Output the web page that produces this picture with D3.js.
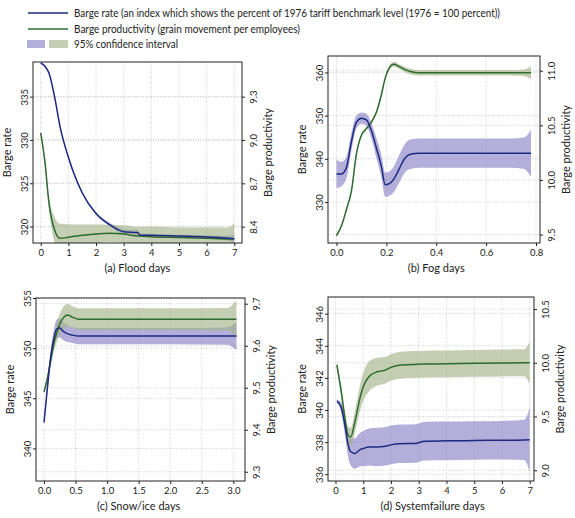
<!DOCTYPE html>
<html>
<head>
<meta charset="utf-8">
<script src="https://cdn.jsdelivr.net/npm/d3@7"></script>
<style>
  body { margin: 0; background: #fff; }
  svg { font-family: Lato, "Open Sans", sans-serif; }
</style>
</head>
<body>
<svg id="chart" width="575" height="518"></svg>
<script>
// (a) Flood days
var floodX     = [0, 0.15, 0.3, 0.5, 0.7, 1, 1.5, 2, 2.5, 3, 3.5, 3.6, 4, 5, 6, 6.8, 7];
var floodRate  = [338.9, 338.5, 337.7, 335, 331.5, 328, 323.9, 321.5, 320.2, 319.4, 319.3, 319.0, 319.0, 318.9, 318.8, 318.65, 318.6];
var floodRateCI = [0.1, 0.1, 0.12, 0.15, 0.15, 0.15, 0.15, 0.15, 0.2, 0.3, 0.3, 0.2, 0.15, 0.15, 0.2, 0.3, 0.5];
var floodProd  = [9.05, 8.85, 8.56, 8.377, 8.32, 8.327, 8.34, 8.35, 8.354, 8.35, 8.335, 8.335, 8.33, 8.325, 8.32, 8.315, 8.315];
var floodProdCI = [0.01, 0.02, 0.04, 0.09, 0.1, 0.09, 0.075, 0.065, 0.06, 0.06, 0.065, 0.065, 0.07, 0.07, 0.075, 0.08, 0.11];

// (b) Fog days
var fogX     = [0, 0.02, 0.04, 0.06, 0.08, 0.1, 0.12, 0.14, 0.16, 0.18, 0.195, 0.21, 0.23, 0.25, 0.275, 0.3, 0.33, 0.4, 0.5, 0.6, 0.7, 0.75, 0.78];
var fogRate  = [336.5, 336.5, 338, 344, 348.5, 349.4, 349, 346.5, 342.5, 338.3, 334.0, 334.2, 335.3, 337.5, 340.2, 341.1, 341.3, 341.3, 341.3, 341.3, 341.3, 341.3, 341.3];
var fogRateCI = [3.3, 2.8, 2.5, 2.0, 1.5, 1.3, 1.4, 1.8, 2.3, 2.6, 2.8, 2.8, 3.0, 3.2, 3.3, 3.4, 3.4, 3.4, 3.4, 3.4, 3.4, 3.6, 5.5];
var fogProd  = [9.49, 9.58, 9.73, 9.90, 10.24, 10.41, 10.47, 10.53, 10.62, 10.78, 10.93, 11.02, 11.06, 11.04, 11.01, 10.99, 10.982, 10.982, 10.982, 10.982, 10.982, 10.982, 10.982];
var fogProdCI = [0.01, 0.01, 0.01, 0.01, 0.01, 0.01, 0.012, 0.012, 0.015, 0.015, 0.018, 0.02, 0.022, 0.022, 0.025, 0.025, 0.025, 0.025, 0.025, 0.025, 0.025, 0.03, 0.06];

// (c) Snow/ice days
var snowX     = [0, 0.05, 0.1, 0.15, 0.2, 0.25, 0.3, 0.37, 0.45, 0.55, 0.7, 1, 2, 2.9, 3.05];
var snowRate  = [342.6, 345.8, 348.8, 350.8, 351.9, 352.0, 351.7, 351.45, 351.3, 351.2, 351.2, 351.2, 351.2, 351.2, 351.2];
var snowRateCI = [0.3, 0.5, 0.7, 0.8, 0.95, 0.95, 0.9, 0.85, 0.8, 0.8, 0.8, 0.8, 0.8, 0.85, 1.4];
var snowProd  = [9.49, 9.52, 9.56, 9.60, 9.63, 9.652, 9.665, 9.673, 9.668, 9.663, 9.663, 9.663, 9.663, 9.663, 9.663];
var snowProdCI = [0.005, 0.008, 0.012, 0.018, 0.022, 0.025, 0.026, 0.027, 0.026, 0.026, 0.026, 0.026, 0.026, 0.027, 0.045];

// (d) Systemfailure days
var failX     = [0.05, 0.2, 0.35, 0.45, 0.55, 0.7, 0.9, 1.0, 1.2, 1.5, 1.8, 2.0, 2.3, 2.9, 3.2, 4, 5, 6, 6.8, 7.0];
var failRate  = [340.56, 340.2, 338.95, 337.9, 337.4, 337.3, 337.55, 337.6, 337.7, 337.7, 337.75, 337.83, 337.9, 337.92, 338.06, 338.08, 338.1, 338.12, 338.14, 338.15];
var failRateCI = [0.1, 0.3, 0.6, 0.8, 0.85, 0.95, 1.05, 1.1, 1.15, 1.2, 1.2, 1.2, 1.2, 1.2, 1.2, 1.2, 1.2, 1.2, 1.25, 2.0];
var failProd  = [9.98, 9.745, 9.465, 9.33, 9.31, 9.45, 9.69, 9.776, 9.87, 9.916, 9.932, 9.957, 9.976, 9.985, 9.988, 9.99, 9.995, 9.998, 10.0, 10.0];
var failProdCI = [0.03, 0.05, 0.07, 0.08, 0.085, 0.1, 0.12, 0.13, 0.14, 0.13, 0.125, 0.125, 0.125, 0.125, 0.125, 0.125, 0.125, 0.125, 0.125, 0.2];

// tick labels
var floodXTicks = [0, 1, 2, 3, 4, 5, 6, 7];
var floodLTicks = [320, 325, 330, 335];
var floodRTicks = [8.4, 8.7, 9.0, 9.3];
var fogXTicks = [0, 0.2, 0.4, 0.6, 0.8];
var fogLTicks = [330, 340, 350, 360];
var fogRTicks = [9.5, 10.0, 10.5, 11.0];
var snowXTicks = [0, 0.5, 1, 1.5, 2, 2.5, 3];
var snowLTicks = [340, 345, 350, 355];
var snowRTicks = [9.3, 9.4, 9.5, 9.6, 9.7];
var failXTicks = [0, 1, 2, 3, 4, 5, 6, 7];
var failLTicks = [336, 338, 340, 342, 344, 346];
var failRTicks = [9.0, 9.5, 10.0, 10.5];

var legendLabels = [
  "Barge rate (an index which shows the percent of 1976 tariff benchmark level (1976 = 100 percent))",
  "Barge productivity (grain movement per employees)",
  "95% confidence interval"
];

var rateColor = "#1b2a80", prodColor = "#2d6b2f";
var rateBand = "#8c82c8", prodBand = "#a3b38a", bandOpacity = 0.65;

var svg = d3.select("#chart");

// panels: box in pixels and scale domains
var panels = [
  {id: "a", title: "(a) Flood days", box: [33, 242, 62, 243], xd: [-0.28, 7.28], yl: [318.1, 339], yr: [8.287, 9.54],
   x: floodX, rate: floodRate, rateCI: floodRateCI, prod: floodProd, prodCI: floodProdCI,
   xt: floodXTicks, lt: floodLTicks, rt: floodRTicks, xf: d3.format("d"), lf: d3.format("d"), rf: d3.format(".1f")},
  {id: "b", title: "(b) Fog days", box: [328, 540, 56, 243], xd: [-0.034, 0.816], yl: [320.5, 363.8], yr: [9.423, 11.135],
   x: fogX, rate: fogRate, rateCI: fogRateCI, prod: fogProd, prodCI: fogProdCI,
   xt: fogXTicks, lt: fogLTicks, rt: fogRTicks, xf: d3.format(".1f"), lf: d3.format("d"), rf: d3.format(".1f")},
  {id: "c", title: "(c) Snow/ice days", box: [36, 245, 298, 481], xd: [-0.127, 3.185], yl: [336.75, 355], yr: [9.278, 9.7136],
   x: snowX, rate: snowRate, rateCI: snowRateCI, prod: snowProd, prodCI: snowProdCI,
   xt: snowXTicks, lt: snowLTicks, rt: snowRTicks, xf: d3.format(".1f"), lf: d3.format("d"), rf: d3.format(".1f")},
  {id: "d", title: "(d) Systemfailure days", box: [328, 534, 297, 481], xd: [-0.27, 7.155], yl: [335.58, 347.04], yr: [8.9, 10.612],
   x: failX, rate: failRate, rateCI: failRateCI, prod: failProd, prodCI: failProdCI,
   xt: failXTicks, lt: failLTicks, rt: failRTicks, xf: d3.format("d"), lf: d3.format("d"), rf: d3.format(".1f")}
];

panels.forEach(drawPanel);

function drawPanel(p) {
  var x0 = p.box[0], x1 = p.box[1], y0 = p.box[2], y1 = p.box[3];
  var x = d3.scaleLinear().domain(p.xd).range([x0, x1]);
  var yL = d3.scaleLinear().domain(p.yl).range([y1, y0]);
  var yR = d3.scaleLinear().domain(p.yr).range([y1, y0]);
  var g = svg.append("g").attr("id", "panel_" + p.id);

  g.append("clipPath").attr("id", "clip_" + p.id)
    .append("rect").attr("x", x0).attr("y", y0).attr("width", x1 - x0).attr("height", y1 - y0);

  // gridlines
  var grid = g.append("g").attr("stroke", "#c4c4c4").attr("stroke-width", 0.8).attr("stroke-dasharray", "1,1.5");
  grid.selectAll(".gx").data(p.xt).enter().append("line")
    .attr("x1", d => x(d)).attr("x2", d => x(d)).attr("y1", y0).attr("y2", y1);
  grid.selectAll(".gl").data(p.lt).enter().append("line")
    .attr("x1", x0).attr("x2", x1).attr("y1", d => yL(d)).attr("y2", d => yL(d));
  grid.selectAll(".gr").data(p.rt).enter().append("line")
    .attr("x1", x0).attr("x2", x1).attr("y1", d => yR(d)).attr("y2", d => yR(d));

  var pts = p.x.map((v, i) => ({x: v, r: p.rate[i], rc: p.rateCI[i], p: p.prod[i], pc: p.prodCI[i]}));
  var curve = d3.curveMonotoneX;
  var plot = g.append("g").attr("clip-path", "url(#clip_" + p.id + ")");

  plot.append("path").datum(pts)
    .attr("fill", rateBand).attr("fill-opacity", bandOpacity)
    .attr("d", d3.area().curve(curve).x(d => x(d.x)).y0(d => yL(d.r - d.rc)).y1(d => yL(d.r + d.rc)));
  plot.append("path").datum(pts)
    .attr("fill", prodBand).attr("fill-opacity", bandOpacity)
    .attr("d", d3.area().curve(curve).x(d => x(d.x)).y0(d => yR(d.p - d.pc)).y1(d => yR(d.p + d.pc)));
  plot.append("path").datum(pts)
    .attr("fill", "none").attr("stroke", prodColor).attr("stroke-width", 1.5)
    .attr("d", d3.line().curve(curve).x(d => x(d.x)).y(d => yR(d.p)));
  plot.append("path").datum(pts)
    .attr("fill", "none").attr("stroke", rateColor).attr("stroke-width", 1.5)
    .attr("d", d3.line().curve(curve).x(d => x(d.x)).y(d => yL(d.r)));

  // axes
  var ax = g.append("g").attr("transform", `translate(0,${y1})`)
    .call(d3.axisBottom(x).tickValues(p.xt).tickFormat(p.xf).tickSize(3).tickSizeOuter(0));
  var al = g.append("g").attr("transform", `translate(${x0},0)`)
    .call(d3.axisLeft(yL).tickValues(p.lt).tickFormat(p.lf).tickSize(3).tickSizeOuter(0));
  al.selectAll(".tick text").attr("transform", "rotate(-90)").attr("x", 0).attr("y", -5).attr("dy", 0)
    .style("text-anchor", "middle");
  var ar = g.append("g").attr("transform", `translate(${x1},0)`)
    .call(d3.axisRight(yR).tickValues(p.rt).tickFormat(p.rf).tickSize(3).tickSizeOuter(0));
  ar.selectAll(".tick text").attr("transform", "rotate(-90)").attr("x", 0).attr("y", 8).attr("dy", "0.71em")
    .style("text-anchor", "middle");
  [ax, al, ar].forEach(function(a) {
    a.select(".domain").remove();
    a.selectAll(".tick line").attr("stroke", "#222");
    a.selectAll(".tick text").attr("fill", "#222").style("font-size", "9.5px").style("font-family", "Lato, sans-serif");
  });
  ax.selectAll(".tick text").attr("y", 6);

  // frame
  g.append("rect").attr("x", x0).attr("y", y0).attr("width", x1 - x0).attr("height", y1 - y0)
    .attr("fill", "none").attr("stroke", "#222").attr("stroke-width", 1);

  // titles
  g.append("text").attr("x", (x(p.xt[0]) + x(p.xt[p.xt.length - 1])) / 2).attr("y", y1 + 29)
    .attr("text-anchor", "middle").style("font-size", "11px").attr("fill", "#222").text(p.title);
  g.append("text").attr("transform", `translate(${x0 - 22},${(y0 + y1) / 2}) rotate(-90)`)
    .attr("text-anchor", "middle").style("font-size", "11px").attr("fill", "#222").text("Barge rate");
  g.append("text").attr("transform", `translate(${x1 + 30},${(y0 + y1) / 2}) rotate(-90)`)
    .attr("text-anchor", "middle").style("font-size", "11px").attr("fill", "#222").text("Barge productivity");
}

// legend
var leg = svg.append("g").attr("id", "legend");
leg.append("line").attr("x1", 28).attr("x2", 68).attr("y1", 13).attr("y2", 13)
  .attr("stroke", rateColor).attr("stroke-width", 1.3);
leg.append("line").attr("x1", 28).attr("x2", 68).attr("y1", 29).attr("y2", 29)
  .attr("stroke", prodColor).attr("stroke-width", 1.3);
leg.append("rect").attr("x", 27).attr("y", 40).attr("width", 18).attr("height", 8)
  .attr("fill", rateBand).attr("fill-opacity", bandOpacity);
leg.append("rect").attr("x", 49).attr("y", 40).attr("width", 19).attr("height", 8)
  .attr("fill", prodBand).attr("fill-opacity", bandOpacity);
var legWidths = [426, 226, 104];
var legY = [16.5, 32.5, 48];
leg.selectAll("text.lt").data(legendLabels).enter().append("text")
  .attr("x", 74).attr("y", (d, i) => legY[i])
  .attr("textLength", (d, i) => legWidths[i]).attr("lengthAdjust", "spacingAndGlyphs")
  .style("font-size", "10.5px").attr("fill", "#222").text(d => d);
</script>
</body>
</html>
